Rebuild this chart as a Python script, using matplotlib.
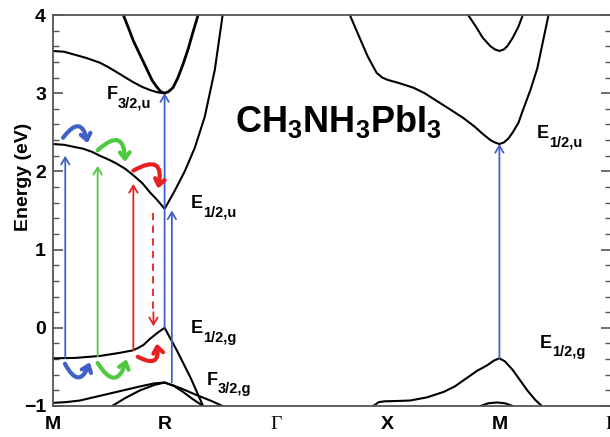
import matplotlib.pyplot as plt
from matplotlib.ticker import MultipleLocator

plt.rcParams['font.family'] = ['Liberation Sans', 'DejaVu Sans']
plt.rcParams['mathtext.fontset'] = 'custom'
plt.rcParams['mathtext.rm'] = 'Liberation Sans:bold'
plt.rcParams['mathtext.bf'] = 'Liberation Sans:bold'
plt.rcParams['mathtext.it'] = 'Liberation Sans:bold'

# k-path (M-R-G-X-M-G), equally spaced
kpoints = [0, 1, 2, 3, 4, 5]
klabels = ['M', 'R', 'Γ', 'X', 'M', 'Γ']

# bands: k position, energy (eV)
vb_k = [0.0, 0.2, 0.42, 0.6, 0.71, 0.76, 0.81, 0.87, 0.94, 1.0, 1.11, 1.23, 1.32, 1.345]
vb_e = [-0.39, -0.385, -0.36, -0.32, -0.29, -0.26, -0.22, -0.14, -0.06, 0.0, -0.29, -0.63, -0.92, -1.0]

vb2_k = [0.0, 0.12, 0.24, 0.33, 0.42, 0.6, 0.78, 0.91, 1.0, 1.08, 1.165, 1.25, 1.345]
vb2_e = [-0.96, -0.95, -0.93, -0.90, -0.87, -0.81, -0.75, -0.71, -0.70, -0.74, -0.82, -0.91, -1.0]

vb3_k = [0.53, 0.645, 0.78, 0.91, 1.0, 1.14, 1.27, 1.41, 1.52]
vb3_e = [-1.0, -0.9, -0.8, -0.73, -0.70, -0.77, -0.85, -0.93, -1.0]

vbm_k = [2.87, 2.92, 2.975, 3.1, 3.2, 3.35, 3.5, 3.6, 3.71, 3.8, 3.89, 3.95, 4.0,
         4.05, 4.12, 4.18, 4.25, 4.32, 4.38]
vbm_e = [-1.0, -0.95, -0.94, -0.935, -0.93, -0.89, -0.82, -0.75, -0.64, -0.55, -0.48, -0.42, -0.39,
         -0.43, -0.54, -0.66, -0.80, -0.92, -1.0]

hump_k = [3.83, 3.9, 3.98, 4.05, 4.12]
hump_e = [-1.0, -0.965, -0.955, -0.965, -1.0]

cb_k = [0.0, 0.1, 0.2, 0.27, 0.35, 0.42, 0.5, 0.57, 0.65, 0.72, 0.8, 0.87, 0.93, 0.96, 1.0,
        1.09, 1.18, 1.27, 1.36, 1.45, 1.52]
cb_e = [2.35, 2.34, 2.31, 2.29, 2.25, 2.20, 2.15, 2.10, 2.03, 1.95, 1.85, 1.73, 1.64, 1.59, 1.52,
        1.75, 2.0, 2.3, 2.7, 3.3, 4.0]

cb2_k = [0.0, 0.1, 0.2, 0.3, 0.42, 0.5, 0.57, 0.65, 0.72, 0.8, 0.87, 0.94, 1.0]
cb2_e = [3.54, 3.53, 3.49, 3.45, 3.39, 3.33, 3.27, 3.20, 3.14, 3.08, 3.04, 3.01, 3.0]

cb3_k = [0.63, 0.68, 0.72, 0.77, 0.81, 0.85, 0.89, 0.93, 0.965, 1.0, 1.035, 1.075, 1.12,
         1.165, 1.21, 1.25, 1.30]
cb3_e = [4.0, 3.82, 3.67, 3.52, 3.40, 3.28, 3.16, 3.08, 3.02, 3.0, 3.02, 3.07, 3.2,
         3.37, 3.56, 3.76, 4.0]

cbm_k = [2.66, 2.72, 2.82, 2.9, 2.95, 3.0, 3.1, 3.23, 3.33, 3.44, 3.55, 3.67, 3.78, 3.85,
         3.92, 3.96, 4.0, 4.04, 4.08, 4.12, 4.17, 4.21, 4.28, 4.34, 4.44]
cbm_e = [4.0, 3.8, 3.47, 3.26, 3.2, 3.17, 3.13, 3.07, 3.0, 2.9, 2.8, 2.69, 2.57, 2.48,
         2.40, 2.37, 2.35, 2.37, 2.42, 2.50, 2.62, 2.78, 3.05, 3.32, 4.0]

cbm2_k = [3.72, 3.79, 3.85, 3.92, 3.96, 4.0, 4.04, 4.07, 4.12, 4.17, 4.21]
cbm2_e = [4.0, 3.85, 3.71, 3.60, 3.56, 3.54, 3.56, 3.60, 3.71, 3.85, 4.0]

# vertical transitions: k, start E, end E, colour
transitions = [
    (0.11, -0.385, 2.2, '#4060c8'),
    (0.40, -0.365, 2.07, '#50c840'),
    (0.72, -0.29, 1.84, '#e82020'),
    (1.0, 0.0, 3.0, '#4060c8'),
    (1.065, -0.70, 1.50, '#4060c8'),
    (4.0, -0.39, 2.35, '#4060c8'),
]

# curved scattering arrows: start, end, curvature, colour
hops = [
    ((0.09, 2.43), (0.31, 2.36), -1.1, '#4060c8'),
    ((0.40, 2.27), (0.645, 2.12), -1.1, '#50c840'),
    ((0.72, 2.01), (0.94, 1.78), -1.1, '#e82020'),
    ((0.107, -0.46), (0.33, -0.44), 1.1, '#4060c8'),
    ((0.40, -0.45), (0.66, -0.40), 1.1, '#50c840'),
    ((0.76, -0.37), (0.93, -0.20), 1.0, '#e82020'),
]

# state labels: k, E (baseline), letter, subscript
states = [
    (0.484, 2.93, 'F', '3/2,u'),
    (1.237, 1.53, 'E', '1/2,u'),
    (1.237, -0.07, 'E', '1/2,g'),
    (1.38, -0.73, 'F', '3/2,g'),
    (4.337, 2.43, 'E', '1/2,u'),
    (4.364, -0.26, 'E', '1/2,g'),
]

fig = plt.figure(figsize=(6.1, 4.37), dpi=100)
ax = fig.add_axes([53 / 610, 31 / 437, 558 / 610, 391 / 437])

for k, e in [(vb_k, vb_e), (vb2_k, vb2_e), (vb3_k, vb3_e), (vbm_k, vbm_e),
             (hump_k, hump_e), (cb_k, cb_e), (cb2_k, cb2_e), (cbm_k, cbm_e),
             (cbm2_k, cbm2_e)]:
    ax.plot(k, e, color='black', lw=1.5, solid_joinstyle='round')
ax.plot(cb3_k, cb3_e, color='black', lw=2.0, solid_joinstyle='round')

for x, e0, e1, c in transitions:
    ax.annotate('', xy=(x, e1), xytext=(x, e0),
                arrowprops=dict(arrowstyle='->,head_length=0.5,head_width=0.3',
                                color=c, lw=1.3, shrinkA=0, shrinkB=0))

# dashed relaxation arrow
ax.plot([0.9, 0.9], [1.47, 0.2], color='#e82020', lw=1.3, ls=(0, (4, 3)))
ax.annotate('', xy=(0.9, 0.02), xytext=(0.9, 0.2),
            arrowprops=dict(arrowstyle='->,head_length=0.5,head_width=0.3',
                            color='#e82020', lw=1.3, shrinkA=0, shrinkB=0))

for p0, p1, rad, c in hops:
    ax.annotate('', xy=p1, xytext=p0,
                arrowprops=dict(arrowstyle='->,head_length=0.45,head_width=0.35',
                                connectionstyle='arc3,rad=%.2f' % rad,
                                color=c, lw=3, shrinkA=0, shrinkB=0))

for x, y, big, sub in states:
    ax.text(x, y, big, fontsize=13, fontweight='bold')
    ax.annotate(sub, xy=(x, y), xytext=(8.5 if big == 'E' else 7.5, -6),
                textcoords='offset points', fontsize=10.5, fontweight='bold')

ax.text(1.63, 2.5, r'$\mathbf{CH_3NH_3PbI_3}$', fontsize=26)

ax.set_xlim(0, 5)
ax.set_ylim(-1, 4)
ax.set_xticks(kpoints)
ax.set_xticklabels(klabels, fontsize=14, fontweight='bold')
for lab in ax.get_xticklabels():
    if lab.get_text() == 'Γ':
        lab.set_fontfamily('Liberation Serif')
        lab.set_fontweight('normal')
ax.tick_params(axis='x', length=0, pad=7)

ax.set_yticks(range(-1, 5))
ax.yaxis.set_minor_locator(MultipleLocator(0.2))
ax.tick_params(axis='y', which='both', direction='in', right=True,
               labelsize=14, color='#555555', pad=5)
ax.tick_params(axis='y', which='major', length=7, width=1.2)
ax.tick_params(axis='y', which='minor', length=4, width=1.0)
for lab in ax.get_yticklabels():
    lab.set_fontweight('bold')

ax.set_ylabel('Energy (eV)', fontsize=14, fontweight='bold')
ax.yaxis.set_label_coords(-0.037, 0.585)

for s in ax.spines.values():
    s.set_color('#555555')
    s.set_linewidth(1.3)

fig.savefig('out.png', dpi=100)
